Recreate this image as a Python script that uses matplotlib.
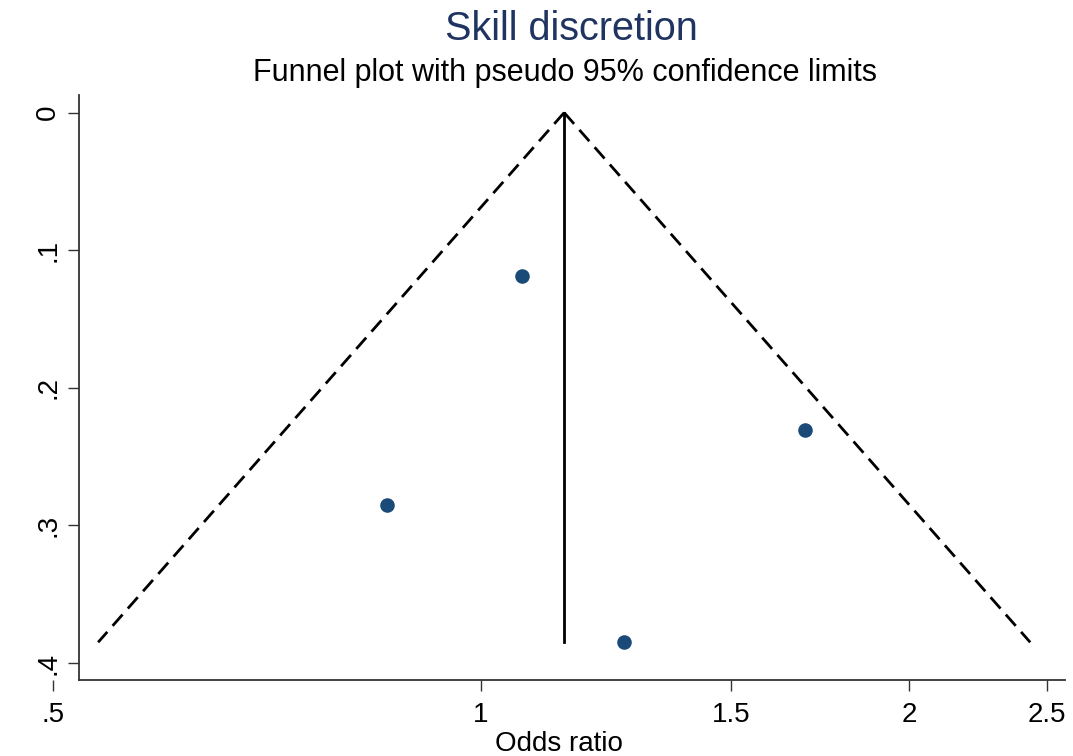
import numpy as np
import matplotlib.pyplot as plt

plt.rcParams['font.family'] = ['Liberation Sans', 'DejaVu Sans']

# study estimates: odds ratio and standard error of log odds ratio
odds_ratio = [1.069, 0.859, 1.690, 1.260]
std_err = [0.119, 0.285, 0.2305, 0.385]
pooled_or = 1.144

x_ticks = [0.5, 1, 1.5, 2, 2.5]
x_tick_labels = ['.5', '1', '1.5', '2', '2.5']
y_ticks = [0, 0.1, 0.2, 0.3, 0.4]
y_tick_labels = ['0', '.1', '.2', '.3', '.4']

# pseudo 95% confidence limits around the pooled estimate
se_max = max(std_err)
se_line = np.array([0, se_max])
lower = np.exp(np.log(pooled_or) - 1.96 * se_line)
upper = np.exp(np.log(pooled_or) + 1.96 * se_line)

fig = plt.figure(figsize=(10.73, 7.56), dpi=100)
ax = fig.add_axes([53 / 1073, 1 - 680 / 756, (1065 - 53) / 1073, (680 - 95) / 756])

ax.plot(lower, se_line, color='black', lw=2, dashes=(5.4, 2.9))
ax.plot(upper, se_line, color='black', lw=2, dashes=(5.4, 2.9))
ax.plot([pooled_or, pooled_or], se_line, color='black', lw=2)
ax.scatter(odds_ratio, std_err, s=110, color='#1a4a78', zorder=3, linewidths=0)

# spine positions first: moving a spine resets its axis' ticks
x_left = 0.5216
for side in ['top', 'right']:
    ax.spines[side].set_visible(False)
ax.spines['left'].set_position(('data', x_left))
ax.spines['bottom'].set_bounds(x_left, 2.574)
for side in ['left', 'bottom']:
    ax.spines[side].set_color('#333333')
    ax.spines[side].set_linewidth(1.3)

ax.set_xscale('log')
ax.set_xlim(0.5, 2.574)
ax.set_ylim(0.4124, -0.0128)
ax.minorticks_off()
ax.set_xticks(x_ticks)
ax.set_xticklabels(x_tick_labels)
ax.set_yticks(y_ticks)
ax.set_yticklabels(y_tick_labels)

ax.tick_params(axis='both', length=8, width=1, color='#333333', labelsize=20)
ax.tick_params(axis='x', pad=8)
ax.tick_params(axis='y', pad=5, labelrotation=90)
for label in ax.get_yticklabels():
    label.set_verticalalignment('center')
ax.set_xlabel('Odds ratio', fontsize=20, labelpad=2)

fig.text(0.533, 0.962, 'Skill discretion', fontsize=28.5, color='#1f3460', ha='center', va='center')
fig.text(0.527, 0.903, 'Funnel plot with pseudo 95% confidence limits', fontsize=22,
         ha='center', va='center')

plt.savefig('out.png', dpi=100)
